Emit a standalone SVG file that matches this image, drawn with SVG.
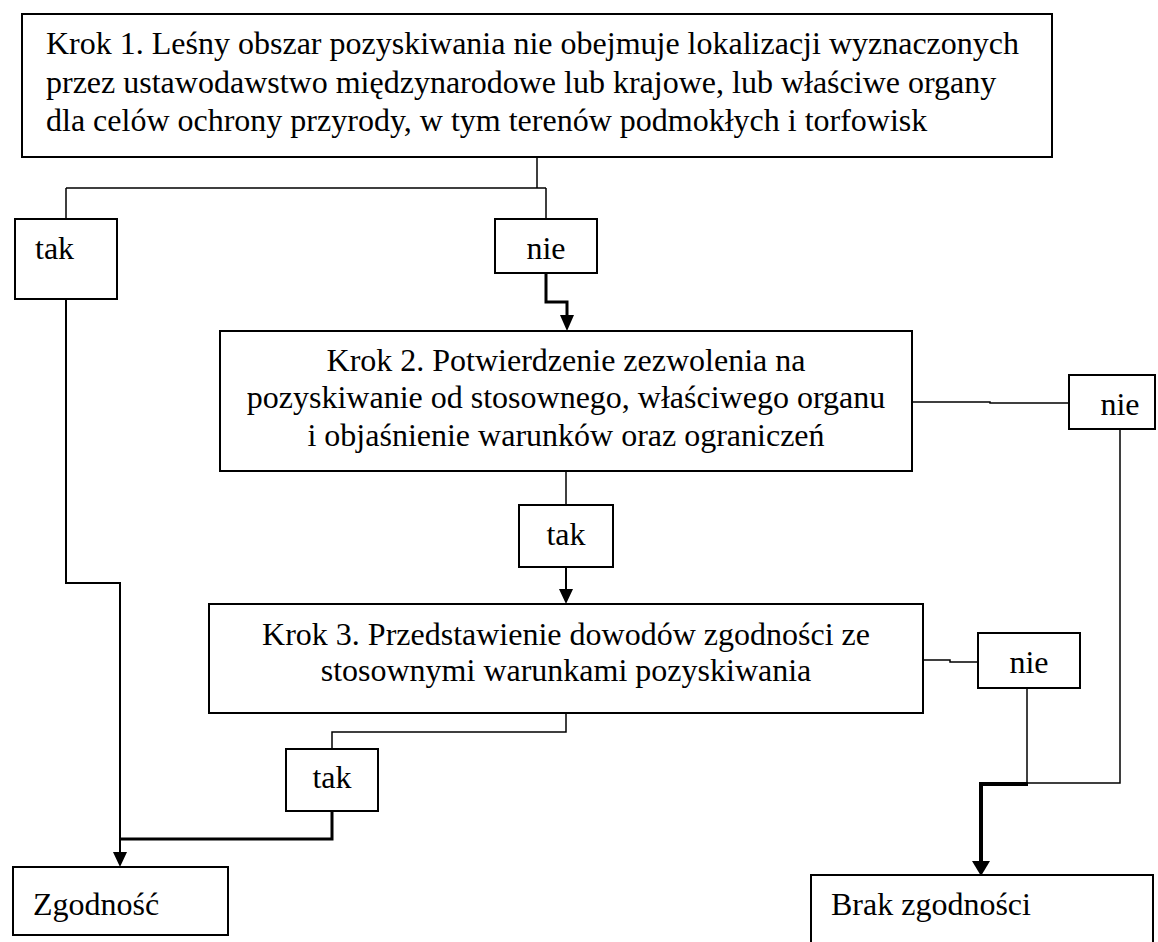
<svg xmlns="http://www.w3.org/2000/svg" width="1158" height="942" viewBox="0 0 1158 942">
<style>
.box{fill:#fff;stroke:#000;stroke-width:2}
text{font-family:'Liberation Serif','Times New Roman',serif;font-size:32px;fill:#000}
.c{text-anchor:middle}
.ln{fill:none;stroke:#000;stroke-width:2}
.thin{fill:none;stroke:#000;stroke-width:1.5}
.thick{fill:none;stroke:#000;stroke-width:3}
.thicker{fill:none;stroke:#000;stroke-width:4}
.ah{fill:#000}
</style>
<rect width="1158" height="942" fill="#fff"/>
<g id="connectors">
<path class="thin" d="M537,157 V188 M66,188 H546 M66,188 V219 M546,188 V219"/>
<path class="thick" d="M546,273 V302 H567 V317"/>
<polygon class="ah" points="560,315 574,315 567,331"/>
<path class="ln" d="M66,299 V583 H120 V853"/>
<polygon class="ah" points="113,852 127,852 120,867"/>
<path class="thin" d="M912,402 H990 V403 H1069"/>
<path class="thin" d="M1120,429 V783 H1027"/>
<path class="thin" d="M566,471 V505"/>
<path class="ln" d="M566,567 V590"/>
<polygon class="ah" points="559,589 573,589 566,604"/>
<path class="thin" d="M923,660 H950 V662 H978"/>
<path class="thin" d="M1027,688 V783"/>
<path class="thicker" d="M1028,784 H981 V862"/>
<polygon class="ah" points="972,861 990,861 981,876"/>
<path class="thin" d="M566,713 V732 H332 V749"/>
<path class="thick" d="M332,811 V839 H120"/>
</g>
<g id="krok1">
<rect class="box" x="22" y="14" width="1030" height="143"/>
<text x="46" y="54">Krok 1. Leśny obszar pozyskiwania nie obejmuje lokalizacji wyznaczonych</text>
<text x="46" y="93">przez ustawodawstwo międzynarodowe lub krajowe, lub właściwe organy</text>
<text x="46" y="131">dla celów ochrony przyrody, w tym terenów podmokłych i torfowisk</text>
</g>
<g id="tak1">
<rect class="box" x="15" y="219" width="102" height="80"/>
<text x="35" y="259">tak</text>
</g>
<g id="nie1">
<rect class="box" x="495" y="219" width="102" height="54"/>
<text class="c" x="546" y="259">nie</text>
</g>
<g id="krok2">
<rect class="box" x="220" y="331" width="692" height="140"/>
<text class="c" x="566" y="371">Krok 2. Potwierdzenie zezwolenia na</text>
<text class="c" x="566" y="408">pozyskiwanie od stosownego, właściwego organu</text>
<text class="c" x="566" y="446">i objaśnienie warunków oraz ograniczeń</text>
</g>
<g id="nie2">
<rect class="box" x="1069" y="375" width="86" height="54"/>
<text class="c" x="1120" y="415">nie</text>
</g>
<g id="tak2">
<rect class="box" x="519" y="505" width="94" height="62"/>
<text class="c" x="566" y="545">tak</text>
</g>
<g id="krok3">
<rect class="box" x="209" y="604" width="714" height="109"/>
<text class="c" x="566" y="645">Krok 3. Przedstawienie dowodów zgodności ze</text>
<text class="c" x="566" y="681">stosownymi warunkami pozyskiwania</text>
</g>
<g id="nie3">
<rect class="box" x="978" y="633" width="102" height="55"/>
<text class="c" x="1029" y="673">nie</text>
</g>
<g id="tak3">
<rect class="box" x="286" y="749" width="92" height="62"/>
<text class="c" x="332" y="788">tak</text>
</g>
<g id="zgodnosc">
<rect class="box" x="13" y="867" width="215" height="68"/>
<text x="33" y="915">Zgodność</text>
</g>
<g id="brak">
<rect class="box" x="811" y="875" width="342" height="80"/>
<text x="831" y="915">Brak zgodności</text>
</g>
</svg>
